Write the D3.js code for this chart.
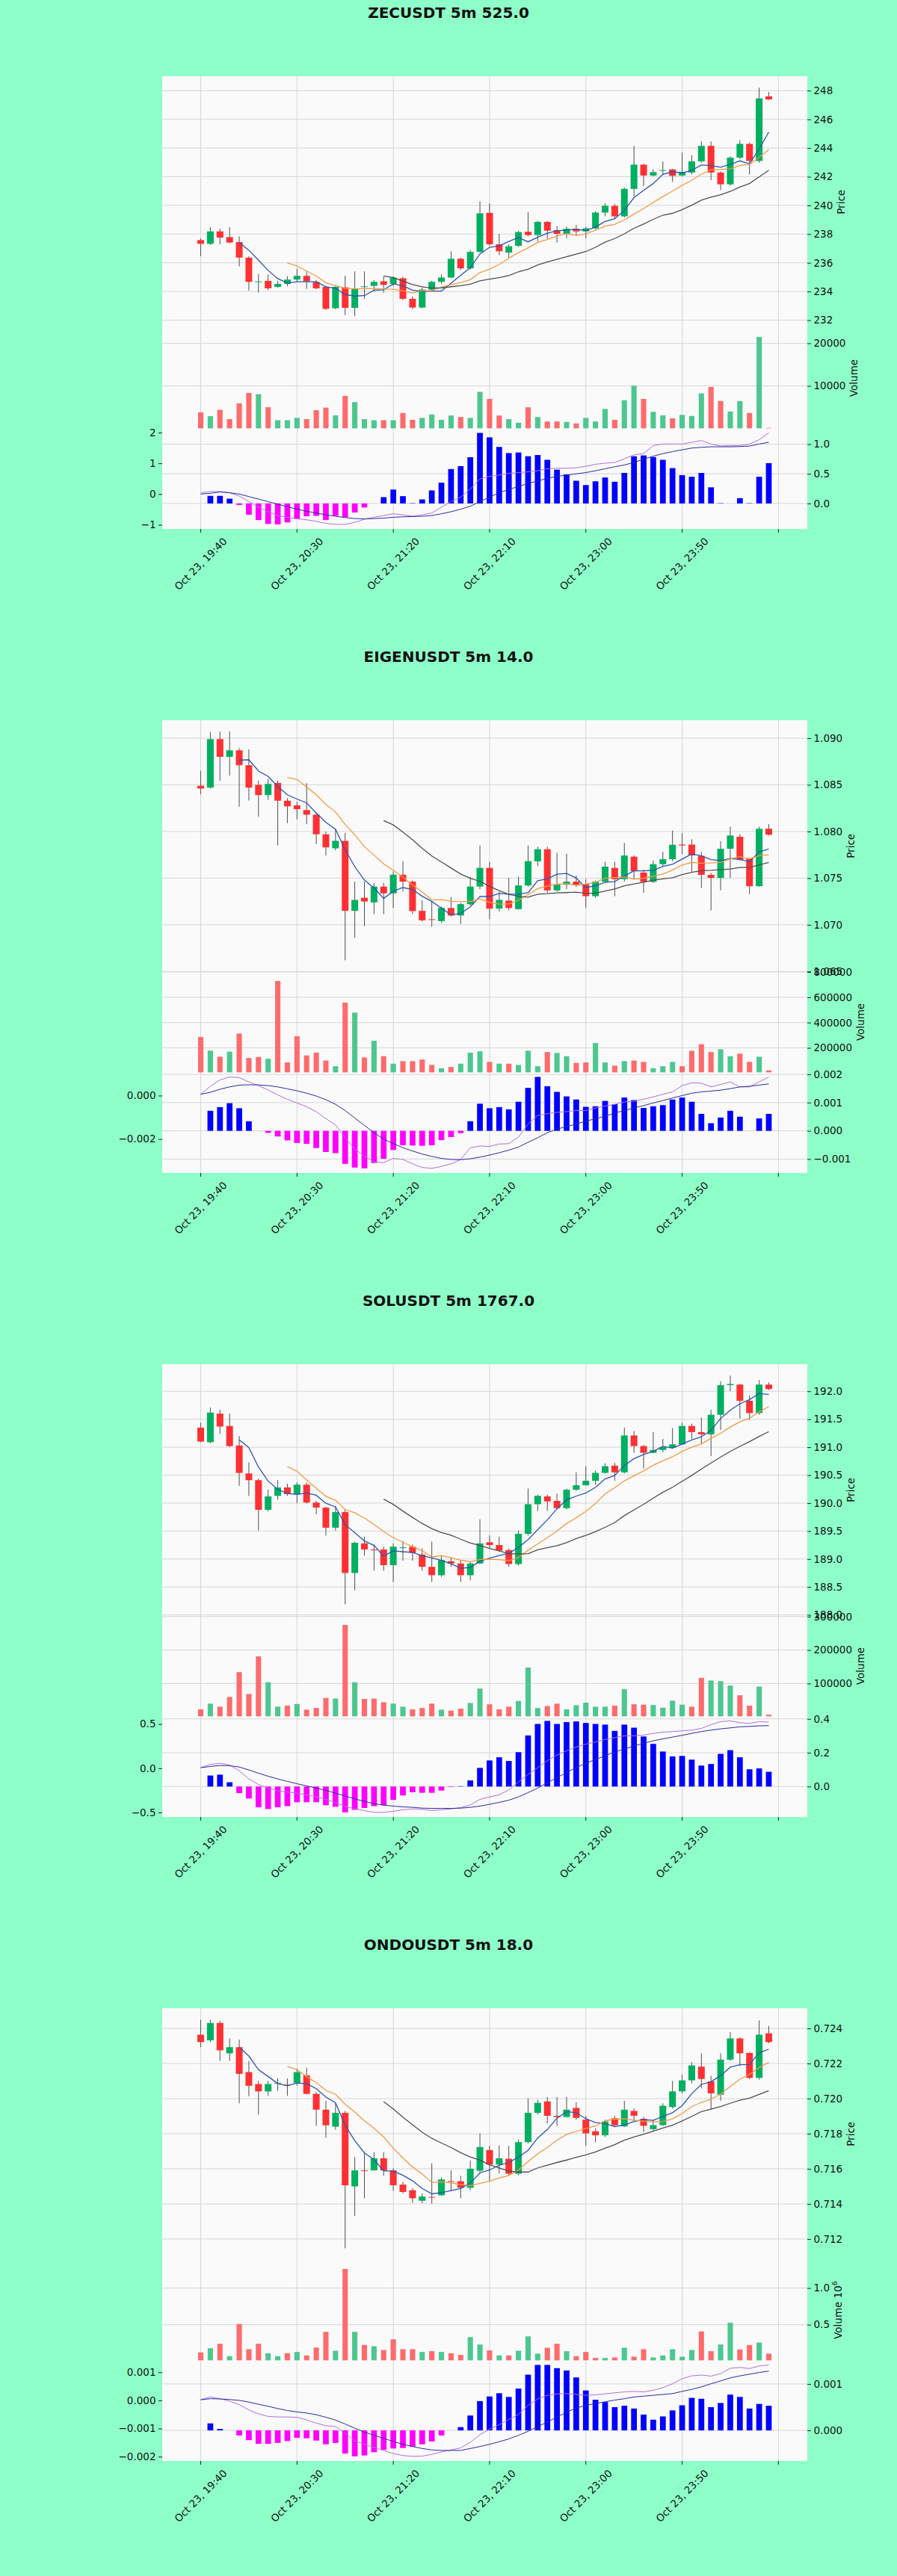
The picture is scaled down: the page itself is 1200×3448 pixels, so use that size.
<!DOCTYPE html>
<html lang="en">
<head>
<meta charset="UTF-8">
<title>5m candles</title>
<script src="https://cdn.jsdelivr.net/npm/d3@7/dist/d3.min.js"></script>
<style>
  body { margin: 0; background: #8effc8; }
  svg { display: block; font-family: 'DejaVu Sans', sans-serif; }
</style>
</head>
<body>
<svg id="chart" width="1200" height="3448"></svg>
<script>
// ---- shared x axis ----
const timeLabels = ["Oct 23, 19:40", "Oct 23, 20:30", "Oct 23, 21:20", "Oct 23, 22:10", "Oct 23, 23:00", "Oct 23, 23:50", ""];
const timeTickIdx = [0, 10, 20, 30, 40, 50, 60];
const mavPeriods = [5, 10, 20];

// ---- ZECUSDT: [open, high, low, close] ----
const zecOHLC = [
  [237.58,237.70,236.45,237.32],[237.32,238.49,237.25,238.19],[238.19,238.37,237.29,237.76],[237.79,238.49,237.36,237.41],
  [237.44,237.84,235.75,236.36],[236.36,236.45,234.06,234.67],[234.68,235.23,233.92,234.70],[234.74,235.19,234.10,234.22],
  [234.32,234.74,234.27,234.53],[234.53,235.06,234.36,234.83],[234.83,235.58,234.67,235.09],[235.09,235.40,234.18,234.71],
  [234.67,234.79,234.15,234.22],[234.32,234.39,232.70,232.79],[232.83,234.39,232.76,234.32],[234.29,235.09,232.36,232.86],
  [232.86,235.40,232.27,234.22],[234.35,235.40,233.49,234.36],[234.39,234.79,234.01,234.67],[234.71,235.06,233.92,234.46],
  [234.53,235.06,234.36,234.97],[234.92,235.02,233.40,233.49],[233.49,233.66,232.76,232.88],[232.88,234.27,232.83,234.13],
  [234.13,234.74,234.05,234.67],[234.67,235.19,234.53,234.97],[234.97,236.80,234.92,236.28],[236.28,236.36,235.49,235.61],
  [235.61,236.89,235.54,236.76],[236.76,240.28,236.71,239.45],[239.48,240.14,237.18,237.29],[237.29,238.02,236.54,236.80],
  [236.71,237.29,236.36,237.15],[237.18,238.23,237.11,238.14],[238.16,239.53,237.84,237.93],[237.93,238.92,237.50,238.85],
  [238.85,238.92,237.67,238.24],[238.28,238.57,237.41,238.02],[238.02,238.54,237.71,238.37],[238.37,238.63,237.93,238.19],
  [238.19,238.51,237.71,238.40],[238.40,239.59,238.33,239.50],[239.50,240.14,239.24,239.97],[239.97,240.10,239.06,239.24],
  [239.24,241.24,239.15,241.15],[241.15,244.15,240.63,242.84],[242.84,242.90,241.33,242.08],[242.08,242.51,242.02,242.32],
  [242.45,243.07,242.11,242.46],[242.51,242.55,241.64,242.06],[242.08,243.68,242.02,242.34],[242.29,243.51,242.16,243.07],
  [243.07,244.46,242.98,244.15],[244.15,244.46,241.76,242.29],[242.29,242.37,241.07,241.47],[241.47,243.42,241.36,243.33],
  [243.33,244.55,243.24,244.29],[244.29,244.38,242.16,243.10],[243.10,248.21,242.98,247.46],[247.60,247.90,247.34,247.39]
];
const zecVolume = [3800,2900,4400,2200,5900,8350,8050,5000,1950,1950,2500,2200,4300,4900,3100,7650,6200,2200,1950,1950,
  1950,3650,2050,2500,3300,2050,3050,2700,2500,8600,6950,3050,2200,1350,5000,2700,1650,1650,1550,1200,
  2500,1650,4600,2050,6650,10050,6950,3900,3100,2400,3200,2950,8250,9750,6450,4000,6450,3650,21500,150];
const zecHist = [0,0.128,0.128,0.08,-0.025,-0.19,-0.28,-0.345,-0.353,-0.32,-0.26,-0.217,-0.21,-0.28,-0.21,-0.234,-0.153,-0.068,0,0.106,
  0.234,0.123,0.005,0.068,0.22,0.35,0.58,0.63,0.78,1.19,1.115,0.953,0.85,0.86,0.796,0.817,0.736,0.57,0.49,0.383,
  0.31,0.374,0.438,0.366,0.515,0.796,0.81,0.783,0.736,0.596,0.477,0.45,0.515,0.272,0.005,0,0.09,0.005,0.45,0.68];
const zecMacd = [0.041,0.082,0.082,0.041,-0.066,-0.247,-0.427,-0.575,-0.698,-0.756,-0.805,-0.838,-0.887,-0.953,-0.986,-0.986,-0.920,-0.822,-0.756,-0.698,
  -0.641,-0.674,-0.723,-0.674,-0.616,-0.427,-0.247,-0.099,0.164,0.493,0.575,0.616,0.674,0.698,0.723,0.756,0.822,0.838,0.838,0.855,
  0.904,0.970,1.002,1.027,1.150,1.274,1.315,1.578,1.627,1.627,1.627,1.684,1.742,1.627,1.561,1.578,1.578,1.627,1.767,1.988];
const zecSignal = [0,0.025,0.066,0.041,0,-0.082,-0.164,-0.247,-0.329,-0.411,-0.493,-0.559,-0.616,-0.674,-0.723,-0.764,-0.797,-0.805,-0.797,-0.781,
  -0.756,-0.740,-0.731,-0.723,-0.698,-0.641,-0.575,-0.493,-0.394,-0.247,-0.099,0.041,0.148,0.247,0.345,0.427,0.509,0.575,0.616,0.657,
  0.698,0.756,0.822,0.887,0.945,1.027,1.134,1.233,1.315,1.380,1.438,1.495,1.520,1.537,1.537,1.537,1.545,1.561,1.627,1.684];
const zecPriceTicks = [230,232,234,236,238,240,242,244,246,248,250];
const zecVolTicks = [10000,20000];
const zecHistTicks = [0,0.5,1.0];
const zecLineTicks = [-1,0,1,2];

// ---- EIGENUSDT ----
const eigenOHLC = [
  [1.0849,1.08652,1.08398,1.0846],[1.0847,1.09067,1.0846,1.0899],[1.0899,1.0907,1.08545,1.0880],[1.0880,1.0907,1.08599,1.0887],
  [1.0887,1.08893,1.08265,1.0871],[1.0871,1.0888,1.08332,1.0847],[1.0850,1.08545,1.08158,1.0839],[1.0839,1.08564,1.0834,1.0851],
  [1.0852,1.08545,1.0785,1.0833],[1.0833,1.08358,1.0809,1.0827],[1.0828,1.08318,1.08131,1.0824],[1.0823,1.08519,1.08078,1.0818],
  [1.0818,1.08198,1.07864,1.0797],[1.0797,1.07997,1.07743,1.0783],[1.0782,1.08024,1.07797,1.0790],[1.0790,1.07984,1.0662,1.0715],
  [1.0715,1.07463,1.06861,1.07267],[1.0729,1.07463,1.06987,1.0725],[1.0724,1.07449,1.07115,1.0741],[1.0741,1.07449,1.07115,1.07337],
  [1.07337,1.0757,1.07182,1.07537],[1.07537,1.07682,1.07356,1.07463],[1.07463,1.07476,1.07115,1.07147],[1.0715,1.07262,1.07035,1.07048],
  [1.07060,1.07249,1.06981,1.07055],[1.0704,1.07195,1.07021,1.07182],[1.0718,1.07297,1.07088,1.0710],[1.0710,1.07235,1.07008,1.07222],
  [1.0722,1.07516,1.07209,1.0741],[1.0741,1.0785,1.07382,1.0761],[1.0761,1.07676,1.07061,1.07174],[1.07174,1.07356,1.07142,1.07267],
  [1.0726,1.07503,1.07155,1.0718],[1.07168,1.07516,1.07163,1.07422],[1.07422,1.0785,1.07409,1.07682],[1.0768,1.07837,1.07628,1.0781],
  [1.0781,1.07837,1.07342,1.07369],[1.07369,1.0777,1.07356,1.0743],[1.0743,1.07762,1.07382,1.07463],[1.07463,1.07529,1.07409,1.0743],
  [1.07436,1.07489,1.07182,1.07307],[1.07307,1.07476,1.07289,1.07463],[1.07463,1.07676,1.07449,1.07623],[1.0761,1.07676,1.07307,1.07489],
  [1.07489,1.07877,1.07463,1.07743],[1.0773,1.07743,1.07489,1.07575],[1.0756,1.07591,1.07342,1.0746],[1.0746,1.0769,1.07449,1.0765],
  [1.0765,1.07783,1.07623,1.07703],[1.07703,1.08011,1.07682,1.07858],[1.0786,1.07984,1.07757,1.0785],[1.0786,1.07917,1.0757,1.07743],
  [1.0774,1.07783,1.07396,1.07535],[1.07535,1.07556,1.07155,1.07503],[1.07503,1.07896,1.07369,1.07815],[1.07815,1.08051,1.07503,1.07957],
  [1.07944,1.07971,1.0769,1.07695],[1.0771,1.07717,1.07329,1.07414],[1.07414,1.08051,1.07409,1.08029],[1.0803,1.08078,1.07957,1.07965]
];
const eigenVolume = [286000,177800,130000,170000,313000,120000,128000,114000,729000,85000,292000,140000,162000,100000,55000,558000,479000,124000,256000,134000,
  75000,95000,95000,108000,65000,39000,49000,75000,162000,173000,89000,75000,75000,65000,177000,55000,167000,160000,134000,81000,
  85000,238000,85000,59000,95000,100000,89000,39000,55000,89000,55000,177000,229000,167000,189000,134000,154000,89000,130000,22000];
const eigenHist = [0,0.00071,0.00084,0.00098,0.00080,0.00034,0,-0.00007,-0.00020,-0.00034,-0.00043,-0.00046,-0.00061,-0.00075,-0.00079,-0.00117,-0.00130,-0.00133,-0.00114,-0.00099,
  -0.00068,-0.00051,-0.00052,-0.00053,-0.00051,-0.00033,-0.00022,-0.00008,0.00034,0.00096,0.00080,0.00084,0.00076,0.00103,0.00152,0.00191,0.00158,0.00138,0.00122,0.00111,
  0.00085,0.00087,0.00106,0.00094,0.00118,0.00109,0.00081,0.00087,0.00091,0.00111,0.00118,0.00103,0.00060,0.00027,0.00047,0.00071,0.00050,0,0.00044,0.00060];
const eigenMacd = [0.00006,0.00043,0.00072,0.00086,0.00083,0.00063,0.00046,0.00026,0.00003,-0.00017,-0.00034,-0.00051,-0.00074,-0.00106,-0.00135,-0.00194,-0.00246,-0.00278,-0.00305,-0.00309,
  -0.00289,-0.00294,-0.00314,-0.00331,-0.00335,-0.00326,-0.00314,-0.00294,-0.00240,-0.00232,-0.00234,-0.00223,-0.00221,-0.00191,-0.00131,-0.00091,-0.00083,-0.00077,-0.00074,-0.00069,
  -0.00069,-0.00057,-0.00048,-0.00040,-0.00029,-0.00026,-0.00017,-0.00006,0.00006,0.00017,0.00046,0.00059,0.00057,0.00040,0.00051,0.00063,0.00040,0.00040,0.00063,0.00086];
const eigenSignal = [0.00006,0.00015,0.00029,0.00040,0.00048,0.00050,0.00049,0.00046,0.00040,0.00031,0.00022,0.00011,-0.00002,-0.00019,-0.00040,-0.00069,-0.00103,-0.00137,-0.00171,-0.00200,
  -0.00221,-0.00240,-0.00255,-0.00269,-0.00280,-0.00289,-0.00294,-0.00295,-0.00291,-0.00283,-0.00274,-0.00263,-0.00251,-0.00237,-0.00215,-0.00194,-0.00171,-0.00154,-0.00143,-0.00131,
  -0.00118,-0.00106,-0.00095,-0.00080,-0.00069,-0.00057,-0.00046,-0.00034,-0.00023,-0.00011,0,0.00011,0.00017,0.00021,0.00025,0.00032,0.00040,0.00043,0.00048,0.00054];
const eigenPriceTicks = [1.060,1.065,1.070,1.075,1.080,1.085,1.090,1.095];
const eigenVolTicks = [200000,400000,600000,800000];
const eigenHistTicks = [-0.001,0,0.001,0.002];
const eigenLineTicks = [-0.004,-0.002,0];

// ---- SOLUSDT ----
const solOHLC = [
  [191.35,191.44,191.09,191.10],[191.09,191.71,191.07,191.62],[191.60,191.67,191.24,191.37],[191.38,191.60,191.00,191.02],
  [191.03,191.20,190.31,190.54],[190.53,190.73,190.13,190.41],[190.41,190.44,189.51,189.88],[189.88,190.24,189.85,190.12],
  [190.13,190.41,190.06,190.28],[190.28,190.35,190.13,190.16],[190.16,190.37,190.00,190.33],[190.33,190.37,189.99,190.01],
  [190.01,190.04,189.80,189.92],[189.92,189.93,189.42,189.56],[189.56,189.95,189.51,189.84],[189.84,189.89,188.19,188.75],
  [188.75,189.31,188.44,189.29],[189.28,189.40,189.06,189.17],[189.17,189.26,188.79,189.16],[189.17,189.22,188.79,188.89],
  [188.89,189.28,188.59,189.22],[189.20,189.32,188.97,189.21],[189.22,189.26,188.97,189.11],[189.08,189.19,188.79,188.86],
  [188.86,189.31,188.59,188.71],[188.71,189.06,188.68,188.98],[188.96,189.02,188.86,188.92],[188.92,188.97,188.59,188.71],
  [188.71,188.95,188.62,188.92],[188.92,189.71,188.91,189.28],[189.30,189.42,189.20,189.25],[189.25,189.40,189.13,189.15],
  [189.16,189.19,188.86,188.91],[188.91,189.51,188.88,189.45],[189.45,190.26,189.42,189.98],[189.98,190.15,189.86,190.13],
  [190.12,190.15,189.86,190.03],[190.04,190.17,189.89,189.91],[189.91,190.26,189.89,190.24],[190.24,190.55,190.22,190.32],
  [190.32,190.66,190.31,190.40],[190.40,190.58,190.33,190.54],[190.54,190.71,190.53,190.66],[190.67,190.72,190.40,190.55],
  [190.55,191.35,190.53,191.21],[191.21,191.29,190.90,191.02],[191.02,191.04,190.62,190.90],[190.90,191.27,190.89,190.95],
  [190.95,191.15,190.91,191.00],[190.99,191.34,190.97,191.05],[191.05,191.44,191.04,191.38],[191.38,191.42,191.15,191.27],
  [191.27,191.53,191.06,191.23],[191.23,191.67,190.84,191.58],[191.58,192.18,191.31,192.11],[192.11,192.28,192.00,192.13],
  [192.12,192.13,191.51,191.83],[191.83,191.93,191.49,191.61],[191.61,192.20,191.58,192.12],[192.12,192.16,192.02,192.04]
];
const solVolume = [23000,40000,31000,60000,134000,69000,181000,104000,31000,34000,39000,22000,27000,57000,55000,275000,104000,54000,55000,44000,
  40000,31000,23000,27000,40000,22000,19000,25000,42000,85000,38000,23000,31000,48000,148000,27000,33000,40000,23000,35000,
  43000,31000,31000,34000,83000,38000,37000,36000,28000,49000,37000,31000,117000,109000,107000,94000,65000,34000,91000,7000];
const solHist = [0,0.065,0.07,0.025,-0.039,-0.071,-0.123,-0.133,-0.123,-0.116,-0.093,-0.093,-0.093,-0.111,-0.12,-0.153,-0.138,-0.127,-0.116,-0.111,
  -0.079,-0.053,-0.034,-0.037,-0.037,-0.024,-0.003,0.002,0.036,0.11,0.154,0.173,0.151,0.203,0.302,0.37,0.388,0.37,0.381,0.385,
  0.376,0.37,0.366,0.329,0.366,0.348,0.296,0.252,0.207,0.178,0.181,0.159,0.124,0.133,0.193,0.215,0.173,0.102,0.107,0.087];
const solMacd = [0.008,0.042,0.056,0.037,-0.028,-0.121,-0.183,-0.225,-0.254,-0.268,-0.282,-0.301,-0.324,-0.352,-0.389,-0.431,-0.459,-0.479,-0.499,-0.499,
  -0.487,-0.470,-0.459,-0.465,-0.479,-0.470,-0.459,-0.445,-0.414,-0.352,-0.324,-0.301,-0.245,-0.155,-0.070,0.006,0.085,0.149,0.197,0.239,
  0.273,0.296,0.324,0.346,0.366,0.366,0.375,0.394,0.408,0.414,0.423,0.431,0.451,0.493,0.527,0.535,0.515,0.507,0.527,0.521];
const solSignal = [0.006,0.020,0.031,0.028,0.014,-0.020,-0.056,-0.090,-0.121,-0.149,-0.175,-0.200,-0.225,-0.251,-0.282,-0.315,-0.346,-0.375,-0.400,-0.417,
  -0.428,-0.437,-0.442,-0.451,-0.454,-0.454,-0.454,-0.451,-0.442,-0.428,-0.408,-0.386,-0.361,-0.324,-0.276,-0.225,-0.163,-0.107,-0.048,0.008,
  0.056,0.099,0.141,0.183,0.217,0.251,0.282,0.310,0.332,0.352,0.372,0.394,0.414,0.431,0.445,0.456,0.468,0.473,0.479,0.482];
const solPriceTicks = [187.5,188.0,188.5,189.0,189.5,190.0,190.5,191.0,191.5,192.0,192.5];
const solVolTicks = [100000,200000,300000];
const solHistTicks = [-0.2,0,0.2,0.4];
const solLineTicks = [-0.5,0,0.5];

// ---- ONDOUSDT ----
const ondoOHLC = [
  [0.72364,0.72450,0.72293,0.72322],[0.72332,0.72450,0.72322,0.72431],[0.72431,0.72443,0.72215,0.72275],[0.72258,0.72343,0.72215,0.72293],
  [0.72293,0.72336,0.71973,0.72141],[0.72151,0.72215,0.72013,0.72073],[0.72083,0.72101,0.71909,0.72041],[0.72041,0.72101,0.72016,0.72083],
  [0.72090,0.72115,0.72044,0.72090],[0.72080,0.72115,0.72016,0.72078],[0.72090,0.72172,0.72073,0.72151],[0.72132,0.72175,0.72023,0.72027],
  [0.72027,0.72037,0.71845,0.71937],[0.71937,0.71987,0.71777,0.71848],[0.71840,0.71973,0.71823,0.71919],[0.71919,0.71930,0.71147,0.71506],
  [0.71500,0.71667,0.71332,0.71591],[0.71591,0.71695,0.71432,0.71589],[0.71591,0.71695,0.71589,0.71660],[0.71660,0.71695,0.71560,0.71591],
  [0.71591,0.71603,0.71475,0.71506],[0.71510,0.71525,0.71460,0.71468],[0.71478,0.71489,0.71406,0.71432],[0.71418,0.71460,0.71404,0.71442],
  [0.71440,0.71631,0.71401,0.71438],[0.71449,0.71549,0.71446,0.71539],[0.71530,0.71591,0.71475,0.71528],[0.71529,0.71560,0.71432,0.71492],
  [0.71492,0.71646,0.71478,0.71600],[0.71589,0.71802,0.71574,0.71724],[0.71707,0.71731,0.71532,0.71624],[0.71624,0.71734,0.71574,0.71660],
  [0.71657,0.71731,0.71560,0.71572],[0.71572,0.71767,0.71563,0.71752],[0.71752,0.72001,0.71745,0.71919],[0.71919,0.71994,0.71909,0.71976],
  [0.71984,0.72009,0.71859,0.71902],[0.71902,0.72009,0.71845,0.71895],[0.71895,0.72009,0.71895,0.71937],[0.71947,0.71980,0.71880,0.71890],
  [0.71880,0.71902,0.71731,0.71802],[0.71814,0.71831,0.71752,0.71791],[0.71791,0.71880,0.71781,0.71870],[0.71888,0.71902,0.71838,0.71848],
  [0.71842,0.71987,0.71838,0.71937],[0.71930,0.71944,0.71873,0.71902],[0.71885,0.71895,0.71809,0.71845],[0.71826,0.71880,0.71816,0.71849],
  [0.71849,0.71973,0.71845,0.71959],[0.71952,0.72101,0.71944,0.72041],[0.72041,0.72136,0.72030,0.72104],[0.72104,0.72208,0.72087,0.72189],
  [0.72182,0.72258,0.72058,0.72112],[0.72098,0.72130,0.71937,0.72030],[0.72023,0.72258,0.71987,0.72222],[0.72222,0.72379,0.72215,0.72343],
  [0.72343,0.72350,0.72186,0.72258],[0.72260,0.72265,0.72112,0.72118],[0.72118,0.72446,0.72108,0.72364],[0.72372,0.72414,0.72315,0.72322]
];
const ondoVolume = [122000,179000,240000,71000,510000,166000,240000,111000,71000,111000,128000,81000,189000,402000,145000,1260000,402000,223000,206000,155000,
  301000,166000,166000,128000,139000,128000,111000,88000,331000,230000,149000,81000,81000,145000,341000,105000,186000,240000,139000,71000,
  128000,47000,47000,54000,186000,64000,166000,54000,81000,166000,64000,155000,409000,139000,230000,527000,162000,223000,257000,105000];
const ondoHist = [0,0.00015,0.00003,0,-0.00011,-0.00021,-0.00029,-0.00029,-0.00027,-0.00023,-0.00016,-0.00017,-0.00022,-0.00030,-0.00027,-0.00050,-0.00056,-0.00054,-0.00047,-0.00042,
  -0.00039,-0.00038,-0.00035,-0.00030,-0.00024,-0.00011,0,0.00007,0.00032,0.00063,0.00073,0.00080,0.00072,0.00090,0.00120,0.00141,0.00141,0.00134,0.00129,0.00114,
  0.00086,0.00066,0.00061,0.00050,0.00053,0.00047,0.00034,0.00023,0.00030,0.00043,0.00054,0.00070,0.00068,0.00050,0.00059,0.00077,0.00072,0.00047,0.00057,0.00053];
const ondoMacd = [0.00003,0.00012,0.00006,-0.00003,-0.00015,-0.00034,-0.00048,-0.00057,-0.00059,-0.00059,-0.00060,-0.00069,-0.00081,-0.00090,-0.00093,-0.00117,-0.00144,-0.00156,-0.00167,-0.00178,
  -0.00189,-0.00196,-0.00199,-0.00198,-0.00192,-0.00183,-0.00176,-0.00169,-0.00149,-0.00122,-0.00102,-0.00086,-0.00068,-0.00050,-0.00018,0.00005,0.00018,0.00023,0.00024,0.00021,
  0.00018,0.00020,0.00023,0.00027,0.00030,0.00032,0.00030,0.00036,0.00045,0.00059,0.00077,0.00087,0.00090,0.00086,0.00095,0.00114,0.00117,0.00113,0.00122,0.00126];
const ondoSignal = [0.00002,0.00006,0.00005,0.00003,0,-0.00006,-0.00014,-0.00021,-0.00029,-0.00036,-0.00041,-0.00045,-0.00051,-0.00060,-0.00070,-0.00084,-0.00099,-0.00113,-0.00124,-0.00135,
  -0.00146,-0.00156,-0.00164,-0.00171,-0.00176,-0.00178,-0.00178,-0.00178,-0.00171,-0.00164,-0.00156,-0.00147,-0.00137,-0.00124,-0.00110,-0.00093,-0.00077,-0.00059,-0.00042,-0.00027,
  -0.00018,-0.00011,-0.00005,0.00001,0.00006,0.00012,0.00015,0.00018,0.00021,0.00024,0.00032,0.00039,0.00048,0.00059,0.00069,0.00080,0.00087,0.00093,0.00099,0.00104];
const ondoPriceTicks = [0.710,0.712,0.714,0.716,0.718,0.720,0.722,0.724,0.726];
const ondoVolTicks = [500000,1000000];
const ondoHistTicks = [0,0.001];
const ondoLineTicks = [-0.002,-0.001,0,0.001];

// figure table built from the arrays above
const figures = [
  { title: "ZECUSDT 5m 525.0", ohlc: zecOHLC, vol: zecVolume, hist: zecHist, macd: zecMacd, signal: zecSignal,
    priceTicks: zecPriceTicks, volTicks: zecVolTicks, histTicks: zecHistTicks, lineTicks: zecLineTicks,
    priceFmt: d3.format("d"), volFmt: d3.format("d"), histFmt: d3.format(".1f"), lineFmt: d3.format("d"), volExp: null },
  { title: "EIGENUSDT 5m 14.0", ohlc: eigenOHLC, vol: eigenVolume, hist: eigenHist, macd: eigenMacd, signal: eigenSignal,
    priceTicks: eigenPriceTicks, volTicks: eigenVolTicks, histTicks: eigenHistTicks, lineTicks: eigenLineTicks,
    priceFmt: d3.format(".3f"), volFmt: d3.format("d"), histFmt: d3.format(".3f"), lineFmt: d3.format(".3f"), volExp: null },
  { title: "SOLUSDT 5m 1767.0", ohlc: solOHLC, vol: solVolume, hist: solHist, macd: solMacd, signal: solSignal,
    priceTicks: solPriceTicks, volTicks: solVolTicks, histTicks: solHistTicks, lineTicks: solLineTicks,
    priceFmt: d3.format(".1f"), volFmt: d3.format("d"), histFmt: d3.format(".1f"), lineFmt: d3.format(".1f"), volExp: null },
  { title: "ONDOUSDT 5m 18.0", ohlc: ondoOHLC, vol: ondoVolume, hist: ondoHist, macd: ondoMacd, signal: ondoSignal,
    priceTicks: ondoPriceTicks, volTicks: ondoVolTicks, histTicks: ondoHistTicks, lineTicks: ondoLineTicks,
    priceFmt: d3.format(".3f"), volFmt: d => d3.format(".1f")(d / 1e6), histFmt: d3.format(".3f"), lineFmt: d3.format(".3f"), volExp: 6 }
];

// ---- layout ----
const figH = 862;
const X0 = 217, X1 = 1080, Y0 = 102, Y1 = 708;
const unit = (Y1 - Y0) / 9;              // panel ratio 5 : 2 : 2
const priceB = Y0 + 5 * unit, volB = priceB + 2 * unit;
const upColor = "#00b060", downColor = "#fe3032", wickColor = "#505050";
const volUp = "#4dc790", volDown = "#fd6b6c";
const mavColors = ["#2a55b0", "#f39a45", "#505050"];
const gridColor = "#d6d6d6", textColor = "#111";
const tickFont = 13.5, xFont = 13.5;

const svg = d3.select("#chart");
const x = d3.scaleLinear().domain([-4, 63]).range([X0, X1]);
const step = x(1) - x(0);

function padded(lo, hi) {
  const p = (hi - lo) * 0.05;
  return [lo - p, hi + p];
}

function drawAxis(g, axisGen, xPos) {
  const a = g.append("g").attr("transform", `translate(${xPos},0)`).call(axisGen);
  a.select(".domain").remove();
  a.attr("font-size", tickFont).attr("font-family", "'DejaVu Sans', sans-serif").attr("color", textColor);
  a.selectAll(".tick line").attr("stroke", "#222");
  return a;
}

function maxLabelWidth(a) {
  return d3.max(a.selectAll("text").nodes(), n => n.getComputedTextLength()) || 0;
}

figures.forEach((f, k) => {
  const g = svg.append("g").attr("transform", `translate(0,${k * figH})`);
  const n = f.ohlc.length;
  const idx = d3.range(n);

  g.append("text")
    .attr("x", 600).attr("y", 23.5)
    .attr("text-anchor", "middle")
    .attr("font-size", 20).attr("font-weight", "bold")
    .attr("fill", textColor)
    .text(f.title);

  g.append("rect")
    .attr("x", X0).attr("y", Y0)
    .attr("width", X1 - X0).attr("height", Y1 - Y0)
    .attr("fill", "#fafafa");

  // scales
  const y = d3.scaleLinear()
    .domain(padded(d3.min(f.ohlc, d => d[2]), d3.max(f.ohlc, d => d[1])))
    .range([priceB, Y0]);
  const vy = d3.scaleLinear()
    .domain([0.3 * d3.min(f.vol), 1.1 * d3.max(f.vol)])
    .range([volB, priceB]);
  const hy = d3.scaleLinear()
    .domain(padded(Math.min(0, d3.min(f.hist)), Math.max(0, d3.max(f.hist))))
    .range([Y1, volB]);
  const ly = d3.scaleLinear()
    .domain(padded(d3.min(f.macd.concat(f.signal)), d3.max(f.macd.concat(f.signal))))
    .range([Y1, volB]);

  const inside = (sc, ticks) => ticks.filter(t => {
    const [a, b] = sc.domain();
    return t >= Math.min(a, b) - 1e-12 && t <= Math.max(a, b) + 1e-12;
  });
  const pTicks = inside(y, f.priceTicks);
  const vTicks = inside(vy, f.volTicks);
  const hTicks = inside(hy, f.histTicks);
  const lTicks = inside(ly, f.lineTicks);

  // grid
  const grid = g.append("g").attr("stroke", gridColor).attr("stroke-width", 1);
  grid.selectAll(".gx").data(timeTickIdx).join("line")
    .attr("x1", d => x(d)).attr("x2", d => x(d))
    .attr("y1", Y0).attr("y2", Y1);
  const hLines = [].concat(pTicks.map(t => y(t)), vTicks.map(t => vy(t)), hTicks.map(t => hy(t)));
  grid.selectAll(".gy").data(hLines).join("line")
    .attr("x1", X0).attr("x2", X1)
    .attr("y1", d => d).attr("y2", d => d);

  // candles
  const cw = step * 0.7;
  const candles = g.append("g");
  candles.selectAll(".wick").data(idx).join("line")
    .attr("x1", i => x(i)).attr("x2", i => x(i))
    .attr("y1", i => y(f.ohlc[i][1])).attr("y2", i => y(f.ohlc[i][2]))
    .attr("stroke", wickColor).attr("stroke-width", 1);
  candles.selectAll(".body").data(idx).join("rect")
    .attr("x", i => x(i) - cw / 2)
    .attr("y", i => y(Math.max(f.ohlc[i][0], f.ohlc[i][3])))
    .attr("width", cw)
    .attr("height", i => Math.max(1, Math.abs(y(f.ohlc[i][0]) - y(f.ohlc[i][3]))))
    .attr("fill", i => f.ohlc[i][3] >= f.ohlc[i][0] ? upColor : downColor);

  // moving averages of the close (mplfinance mav)
  const closes = f.ohlc.map(d => d[3]);
  mavPeriods.forEach((p, m) => {
    const pts = idx.map(i => i >= p - 1 ? d3.mean(closes.slice(i - p + 1, i + 1)) : null);
    g.append("path")
      .datum(idx)
      .attr("fill", "none")
      .attr("stroke", mavColors[m])
      .attr("stroke-width", 1.3)
      .attr("d", d3.line().defined(i => pts[i] !== null).x(i => x(i)).y(i => y(pts[i])));
  });

  // volume
  const vw = step * 0.55;
  g.append("g").selectAll("rect").data(idx).join("rect")
    .attr("x", i => x(i) - vw / 2)
    .attr("y", i => vy(f.vol[i]))
    .attr("width", vw)
    .attr("height", i => Math.max(0, volB - vy(f.vol[i])))
    .attr("fill", i => f.ohlc[i][3] >= f.ohlc[i][0] ? volUp : volDown);

  // macd histogram + lines
  const hw = step * 0.6;
  g.append("g").selectAll("rect").data(idx).join("rect")
    .attr("x", i => x(i) - hw / 2)
    .attr("y", i => Math.min(hy(0), hy(f.hist[i])))
    .attr("width", hw)
    .attr("height", i => Math.abs(hy(f.hist[i]) - hy(0)))
    .attr("fill", i => f.hist[i] >= 0 ? "#0000ff" : "#ff00ff");

  [[f.macd, "#b070d8"], [f.signal, "#2a2aa0"]].forEach(([vals, col]) => {
    g.append("path")
      .datum(idx)
      .attr("fill", "none")
      .attr("stroke", col)
      .attr("stroke-width", 1)
      .attr("d", d3.line().x(i => x(i)).y(i => ly(vals[i])));
  });

  // right axes
  const pa = drawAxis(g, d3.axisRight(y).tickValues(pTicks).tickFormat(f.priceFmt).tickSize(5).tickPadding(3.5), X1);
  const va = drawAxis(g, d3.axisRight(vy).tickValues(vTicks).tickFormat(f.volFmt).tickSize(5).tickPadding(3.5), X1);
  drawAxis(g, d3.axisRight(hy).tickValues(hTicks).tickFormat(f.histFmt).tickSize(5).tickPadding(3.5), X1);
  drawAxis(g, d3.axisLeft(ly).tickValues(lTicks).tickFormat(f.lineFmt).tickSize(5).tickPadding(3.5), X0);

  // y labels on the right
  const labX = w => X1 + 5 + 3.5 + w + 5.6 + 0.76 * tickFont;
  g.append("text")
    .attr("transform", `translate(${labX(maxLabelWidth(pa))},${(Y0 + priceB) / 2}) rotate(-90)`)
    .attr("text-anchor", "middle").attr("font-size", tickFont).attr("fill", textColor)
    .text("Price");
  const vl = g.append("text")
    .attr("transform", `translate(${labX(maxLabelWidth(va))},${(priceB + volB) / 2}) rotate(-90)`)
    .attr("text-anchor", "middle").attr("font-size", tickFont).attr("fill", textColor)
    .text("Volume");
  if (f.volExp !== null) {
    vl.append("tspan").text("  10");
    vl.append("tspan").attr("font-size", tickFont * 0.7).attr("dy", -6).text(f.volExp);
  }

  // x axis ticks + rotated labels
  const xa = g.append("g");
  xa.selectAll("line").data(timeTickIdx).join("line")
    .attr("x1", d => x(d)).attr("x2", d => x(d))
    .attr("y1", Y1).attr("y2", Y1 + 5)
    .attr("stroke", "#222");
  xa.selectAll("text").data(timeTickIdx).join("text")
    .attr("font-size", xFont).attr("fill", textColor)
    .attr("text-anchor", "middle").attr("dy", "0.35em")
    .text((d, i) => timeLabels[i])
    .attr("transform", function (d) {
      const L = this.getComputedTextLength();
      const half = (L + 1.17 * xFont) * Math.SQRT1_2 / 2;
      return `translate(${x(d)},${Y1 + 5 + 3.5 + half}) rotate(-45)`;
    });
});
</script>
</body>
</html>
